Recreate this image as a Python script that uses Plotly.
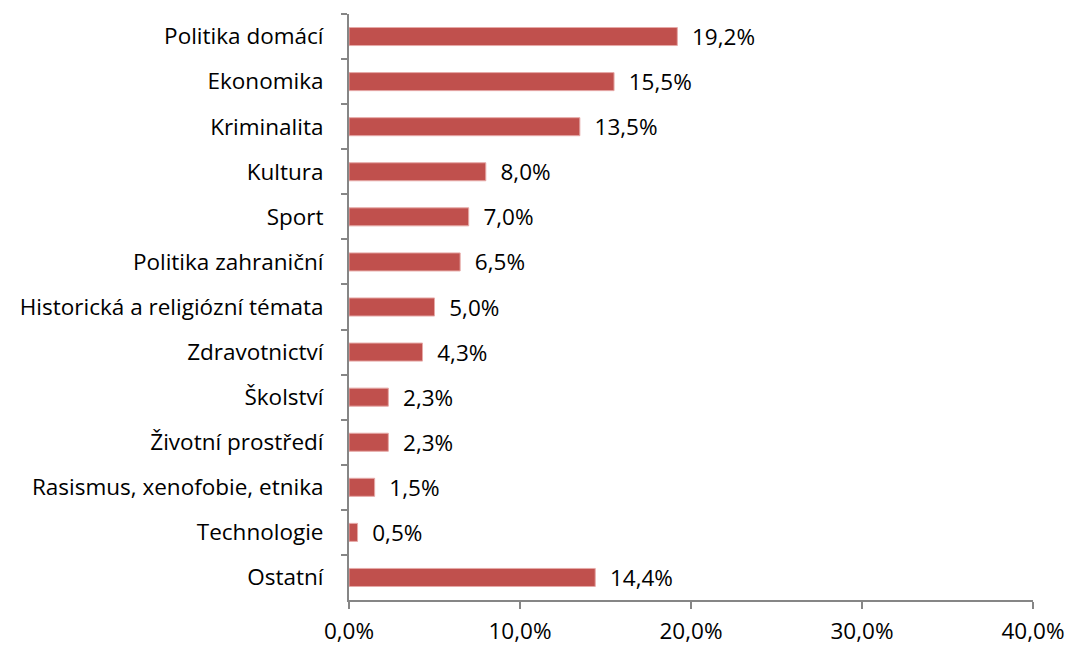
import plotly.graph_objects as go

categories = ["Politika domácí", "Ekonomika", "Kriminalita", "Kultura", "Sport",
              "Politika zahraniční", "Historická a religiózní témata", "Zdravotnictví",
              "Školství", "Životní prostředí", "Rasismus, xenofobie, etnika",
              "Technologie", "Ostatní"]
values = [19.2, 15.5, 13.5, 8.0, 7.0, 6.5, 5.0, 4.3, 2.3, 2.3, 1.5, 0.5, 14.4]
tick_vals = [0, 10, 20, 30, 40]
tick_text = ["0,0%", "10,0%", "20,0%", "30,0%", "40,0%"]

labels = ["  " + f"{v:.1f}".replace(".", ",") + "%" for v in values]

FONT = "Open Sans"
FS = 22.5

fig = go.Figure(go.Bar(
    y=categories, x=values, orientation="h",
    marker=dict(color="#C0504D", line=dict(color="#E6A9A7", width=1)),
    text=labels, textposition="outside", cliponaxis=False,
    constraintext="none",
    textfont=dict(family=FONT, size=FS, color="#000000"),
))

fig.update_layout(
    width=1066, height=645,
    margin=dict(l=349, r=33, t=14, b=45),
    plot_bgcolor="white", paper_bgcolor="white",
    bargap=0.6, showlegend=False,
    font=dict(family=FONT, size=FS, color="#000000"),
)
fig.update_xaxes(
    range=[0, 40], tickvals=tick_vals, ticktext=tick_text,
    showgrid=False, zeroline=False, automargin=False,
    showline=True, linecolor="#868686", linewidth=2,
    ticks="outside", ticklen=7, tickcolor="#868686", tickwidth=2,
    ticklabelstandoff=3,
    tickfont=dict(family=FONT, size=FS, color="#000000"),
)
fig.update_yaxes(
    categoryorder="array", categoryarray=categories, autorange="reversed",
    showgrid=False, zeroline=False, automargin=False,
    showline=True, linecolor="#868686", linewidth=2,
    ticks="outside", ticklen=6, tickcolor="#868686", tickwidth=2,
    tickson="boundaries", ticklabelstandoff=19,
    tickfont=dict(family=FONT, size=FS, color="#000000"),
)

fig.write_html("out.html", config={"displayModeBar": False},
               post_script="document.body.style.margin='0';document.body.style.overflow='hidden';")
